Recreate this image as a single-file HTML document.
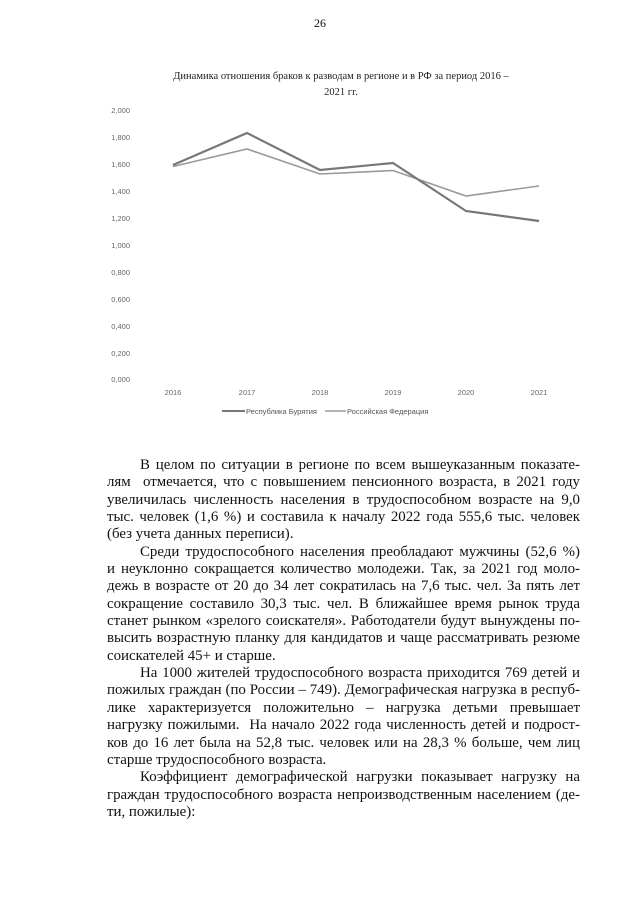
<!DOCTYPE html>
<html><head><meta charset="utf-8"><style>
body{margin:0;width:640px;height:906px;background:#fff;position:relative;overflow:hidden;font-family:"Liberation Serif",serif;color:#111}
.t{position:absolute;left:107px;width:473px;font-size:14.9px;line-height:17.35px;top:457px}
.t div{text-align:justify;text-align-last:justify;white-space:nowrap}
.t div.l{text-align-last:left}
.t div.i{padding-left:33px}
</style></head><body>
<div style="position:absolute;top:16px;left:0;width:640px;text-align:center;font-size:12px">26</div>
<svg style="position:absolute;left:0;top:0" width="640" height="440">
<g font-family="Liberation Serif,serif" font-size="10.5" fill="#222" text-anchor="middle">
<text x="341" y="79">Динамика отношения браков к разводам в регионе и в РФ за период 2016 –</text>
<text x="341" y="95">2021 гг.</text></g>
<g font-family="Liberation Sans,sans-serif" font-size="7.5" fill="#666" text-anchor="end">
<text x="130" y="113">2,000</text><text x="130" y="140">1,800</text><text x="130" y="167">1,600</text><text x="130" y="194">1,400</text><text x="130" y="221">1,200</text><text x="130" y="248">1,000</text><text x="130" y="275">0,800</text><text x="130" y="302">0,600</text><text x="130" y="329">0,400</text><text x="130" y="356">0,200</text><text x="130" y="382">0,000</text></g>
<g font-family="Liberation Sans,sans-serif" font-size="7.5" fill="#666" text-anchor="middle">
<text x="173" y="395">2016</text><text x="247" y="395">2017</text><text x="320" y="395">2018</text><text x="393" y="395">2019</text><text x="466" y="395">2020</text><text x="539" y="395">2021</text></g>
<polyline fill="none" stroke="#999" stroke-width="1.6" points="173,166.5 247,149 320,174 393,170.5 466,196 539,186"/>
<polyline fill="none" stroke="#777" stroke-width="2.2" points="173,165 247,133 320,170 393,163 466,211 539,221"/>
<line x1="222" y1="411" x2="245" y2="411" stroke="#777" stroke-width="2"/>
<line x1="325" y1="411" x2="346" y2="411" stroke="#999" stroke-width="1.6"/>
<g font-family="Liberation Sans,sans-serif" font-size="7.5" fill="#555"><text x="246" y="414">Республика Бурятия</text><text x="347" y="414">Российская Федерация</text></g>
</svg>
<div class="t">
<div class="i">В целом по ситуации в регионе по всем вышеуказанным показате-</div>
<div>лям&nbsp; отмечается, что с повышением пенсионного возраста, в 2021 году</div>
<div>увеличилась численность населения в трудоспособном возрасте на 9,0</div>
<div>тыс. человек (1,6 %) и составила к началу 2022 года 555,6 тыс. человек</div>
<div class="l">(без учета данных переписи).</div>
<div class="i">Среди трудоспособного населения преобладают мужчины (52,6 %)</div>
<div>и неуклонно сокращается количество молодежи. Так, за 2021 год моло-</div>
<div>дежь в возрасте от 20 до 34 лет сократилась на 7,6 тыс. чел. За пять лет</div>
<div>сокращение составило 30,3 тыс. чел. В ближайшее время рынок труда</div>
<div>станет рынком «зрелого соискателя». Работодатели будут вынуждены по-</div>
<div>высить возрастную планку для кандидатов и чаще рассматривать резюме</div>
<div class="l">соискателей 45+ и старше.</div>
<div class="i">На 1000 жителей трудоспособного возраста приходится 769 детей и</div>
<div>пожилых граждан (по России – 749). Демографическая нагрузка в респуб-</div>
<div>лике характеризуется положительно – нагрузка детьми превышает</div>
<div>нагрузку пожилыми.&nbsp; На начало 2022 года численность детей и подрост-</div>
<div>ков до 16 лет была на 52,8 тыс. человек или на 28,3 % больше, чем лиц</div>
<div class="l">старше трудоспособного возраста.</div>
<div class="i">Коэффициент демографической нагрузки показывает нагрузку на</div>
<div>граждан трудоспособного возраста непроизводственным населением (де-</div>
<div class="l">ти, пожилые):</div>
</div>
</body></html>
